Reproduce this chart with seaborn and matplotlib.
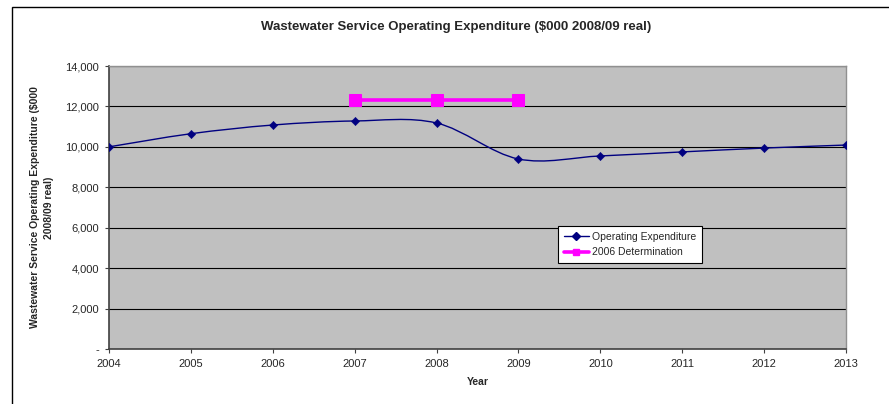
import numpy as np
import pandas as pd
import matplotlib
matplotlib.use("Agg")
import matplotlib.pyplot as plt
from matplotlib.path import Path
from matplotlib.patches import PathPatch, Rectangle
from matplotlib.lines import Line2D
import seaborn as sns

sns.set_theme(style="white")
plt.rcParams["font.family"] = ["Liberation Sans", "DejaVu Sans"]

# Data
years = [2004, 2005, 2006, 2007, 2008, 2009, 2010, 2011, 2012, 2013]
opex = [10000, 10650, 11080, 11280, 11180, 9400, 9550, 9750, 9940, 10090]
det_years = [2007, 2008, 2009]
det_values = [12300, 12300, 12300]
y_ticks = [0, 2000, 4000, 6000, 8000, 10000, 12000, 14000]
y_tick_labels = ["-", "2,000", "4,000", "6,000", "8,000", "10,000", "12,000", "14,000"]

title = "Wastewater Service Operating Expenditure ($000 2008/09 real)"
ylabel = "Wastewater Service Operating Expenditure ($000\n2008/09 real)"
xlabel = "Year"

navy = "#000080"
magenta = "#FF00FF"

fig = plt.figure(figsize=(8.89, 4.04), dpi=100)
ax = fig.add_axes([109 / 889, 1 - 349 / 404, (846 - 109) / 889, (349 - 66) / 404])

# outer chart frame
fig.patches.append(Rectangle((12 / 889, -0.05), 1.0, 1 - 7 / 404 + 0.05,
                             transform=fig.transFigure, fill=False,
                             edgecolor="black", linewidth=1.0))

ax.set_facecolor("#C0C0C0")
for y in y_ticks[1:]:
    ax.axhline(y, color="black", linewidth=0.8, zorder=1)

# smoothed curve through the expenditure points (Catmull-Rom as cubic Bezier)
pts = np.column_stack([years, opex]).astype(float)
ext = np.vstack([pts[0], pts, pts[-1]])
verts = [tuple(pts[0])]
codes = [Path.MOVETO]
for i in range(len(pts) - 1):
    p0, p1, p2, p3 = ext[i], ext[i + 1], ext[i + 2], ext[i + 3]
    c1 = p1 + (p2 - p0) / 6.0
    c2 = p2 - (p3 - p1) / 6.0
    verts += [tuple(c1), tuple(c2), tuple(p2)]
    codes += [Path.CURVE4] * 3
ax.add_patch(PathPatch(Path(verts, codes), facecolor="none", edgecolor=navy,
                       linewidth=1.0, zorder=3))

df_opex = pd.DataFrame({"Year": years, "Value": opex})
sns.scatterplot(data=df_opex, x="Year", y="Value", ax=ax, marker="D", s=18,
                color=navy, edgecolor=navy, zorder=4, legend=False)

df_det = pd.DataFrame({"Year": det_years, "Value": det_values})
sns.lineplot(data=df_det, x="Year", y="Value", ax=ax, color=magenta,
             linewidth=2.6, marker="s", markersize=9, markeredgecolor=magenta,
             zorder=5, legend=False)

ax.set_xlim(2004, 2013)
ax.set_ylim(0, 14000)
ax.set_xticks(years)
ax.set_xticklabels([str(y) for y in years], fontsize=8)
ax.set_yticks(y_ticks)
ax.set_yticklabels(y_tick_labels, fontsize=8)
ax.tick_params(axis="both", direction="out", length=3, width=0.8, color="#404040",
               pad=4, bottom=True, left=True)

for side in ["left", "bottom"]:
    ax.spines[side].set_color("#404040")
    ax.spines[side].set_linewidth(1.2)
for side in ["top", "right"]:
    ax.spines[side].set_color("#909090")
    ax.spines[side].set_linewidth(1.0)

ax.set_xlabel(xlabel, fontsize=7.5, fontweight="bold", labelpad=6)
ax.set_ylabel(ylabel, fontsize=7.5, fontweight="bold", labelpad=8, linespacing=1.5)
ax.set_title("")
fig.text(456 / 889, 1 - 27 / 404, title, ha="center", va="center",
         fontsize=9.5, fontweight="bold")

handles = [
    Line2D([], [], color=navy, linewidth=1.0, marker="D", markersize=4),
    Line2D([], [], color=magenta, linewidth=2.6, marker="s", markersize=5),
]
leg = ax.legend(handles, ["Operating Expenditure", "2006 Determination"],
                loc="upper left", bbox_to_anchor=((558 - 109) / 737, 1 - (226 - 66) / 283),
                fontsize=7.5, frameon=True, fancybox=False, framealpha=1,
                edgecolor="black", borderpad=0.55, handlelength=2.4,
                handletextpad=0.3, labelspacing=0.55, borderaxespad=0)
leg.get_frame().set_linewidth(0.8)

fig.savefig("out.png", dpi=100)
